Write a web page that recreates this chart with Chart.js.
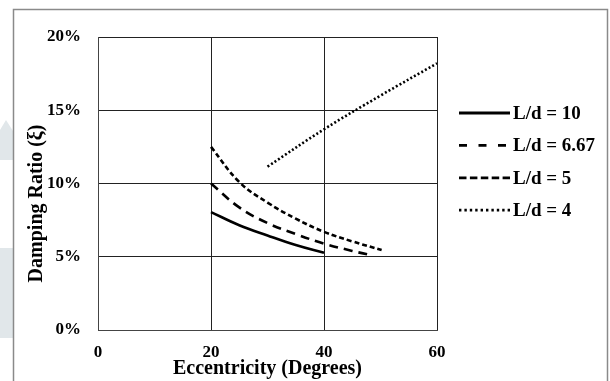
<!DOCTYPE html>
<html>
<head>
<meta charset="utf-8">
<script src="https://cdn.jsdelivr.net/npm/chart.js@4.4.0/dist/chart.umd.min.js"></script>
<style>
  html, body { margin: 0; padding: 0; background: #fff; }
</style>
</head>
<body>
<canvas id="chart" width="610" height="381"></canvas>
<script>
// values (damping ratio in %)
const seriesNames = ["L/d = 10", "L/d = 6.67", "L/d = 5", "L/d = 4"];
const ld10X = [20, 25, 30, 35, 40];
const ld10Y = [8.05, 7.15, 6.45, 5.8, 5.27];
const ld667X = [20, 25, 30, 35, 40, 45, 48.4];
const ld667Y = [10.0, 8.37, 7.3, 6.55, 5.9, 5.4, 5.1];
const ld5X = [20, 25, 30, 35, 40, 45, 50.2];
const ld5Y = [12.5, 10.1, 8.7, 7.6, 6.7, 6.05, 5.46];
const ld4X = [30, 40, 50, 60];
const ld4Y = [11.15, 13.7, 16.0, 18.2];
const xTicks = [0, 20, 40, 60];
const yTicks = [0, 5, 10, 15, 20];

const serif = '"Liberation Serif", "Times New Roman", serif';

function points(xs, ys) {
    return xs.map((x, i) => ({x: x, y: ys[i]}));
}

function line(label, xs, ys, dash, legendDash) {
    return {
        label: label,
        data: points(xs, ys),
        showLine: true,
        borderColor: '#000',
        borderWidth: 2.6,
        borderDash: dash,
        legendDash: legendDash,
        pointRadius: 0,
        tension: 0.4,
        fill: false
    };
}

// grey page frame and the faint watermark on the left edge
const frame = {
    id: 'frame',
    beforeDraw(chart) {
        const ctx = chart.ctx;
        ctx.save();
        ctx.fillStyle = '#e1e7ea';
        ctx.beginPath();
        ctx.moveTo(0, 130);
        ctx.lineTo(6, 120);
        ctx.lineTo(13, 131);
        ctx.lineTo(13, 160);
        ctx.lineTo(0, 160);
        ctx.closePath();
        ctx.fill();
        ctx.fillRect(0, 248, 13, 90);
        ctx.strokeStyle = '#8a8a8a';
        ctx.lineWidth = 1.5;
        ctx.strokeRect(13.5, 9.5, 594, 400);
        ctx.restore();
    }
};

// legend drawn beside the plot, using each dataset's own style
const sideLegend = {
    id: 'sideLegend',
    afterDraw(chart) {
        const ctx = chart.ctx;
        const area = chart.chartArea;
        ctx.save();
        ctx.font = 'bold 19px ' + serif;
        ctx.textBaseline = 'middle';
        ctx.fillStyle = '#000';
        chart.data.datasets.forEach((ds, i) => {
            const y = area.top + 76 + i * 32.4;
            const x0 = area.right + 22;
            ctx.strokeStyle = ds.borderColor;
            ctx.lineWidth = 2.8;
            ctx.setLineDash(ds.legendDash || []);
            ctx.beginPath();
            ctx.moveTo(x0, y);
            ctx.lineTo(x0 + 51, y);
            ctx.stroke();
            ctx.setLineDash([]);
            ctx.fillText(ds.label, x0 + 54, y + 1);
        });
        ctx.restore();
    }
};

const tickFont = {family: serif, size: 17, weight: 'bold'};
const titleFont = {family: serif, size: 20, weight: 'bold', lineHeight: 1.2};

new Chart(document.getElementById('chart'), {
    type: 'scatter',
    data: {
        datasets: [
            line(seriesNames[0], ld10X, ld10Y, [], []),
            line(seriesNames[1], ld667X, ld667Y, [9, 6], [8, 11.5]),
            line(seriesNames[2], ld5X, ld5Y, [5, 3], [7.5, 3.4]),
            line(seriesNames[3], ld4X, ld4Y, [2, 2.2], [2.4, 3])
        ]
    },
    options: {
        responsive: false,
        animation: false,
        devicePixelRatio: 1,
        layout: {padding: {top: 37, right: 173, left: 0, bottom: 0}},
        plugins: {
            legend: {display: false},
            tooltip: {enabled: false}
        },
        scales: {
            x: {
                type: 'linear',
                min: 0,
                max: 60,
                afterBuildTicks: s => { s.ticks = xTicks.map(v => ({value: v})); },
                afterFit: s => { s.height = 51; },
                ticks: {font: tickFont, color: '#000', padding: 12},
                grid: {color: '#222', lineWidth: 1, drawTicks: false},
                border: {color: '#444', width: 1},
                title: {
                    display: true,
                    text: 'Eccentricity (Degrees)',
                    font: titleFont,
                    color: '#000',
                    padding: {top: 0, bottom: 0}
                }
            },
            y: {
                min: 0,
                max: 20,
                afterBuildTicks: s => { s.ticks = yTicks.map(v => ({value: v})); },
                afterFit: s => { s.width = 98; },
                ticks: {font: tickFont, color: '#000', padding: 17, callback: v => v + '%'},
                grid: {color: '#222', lineWidth: 1, drawTicks: false},
                border: {color: '#444', width: 1},
                title: {
                    display: true,
                    // trailing spaces push the label down, as in the original
                    text: 'Damping Ratio (\u03be)        ',
                    font: titleFont,
                    color: '#000',
                    padding: {top: 25, bottom: 0}
                }
            }
        }
    },
    plugins: [frame, sideLegend]
});
</script>
</body>
</html>
